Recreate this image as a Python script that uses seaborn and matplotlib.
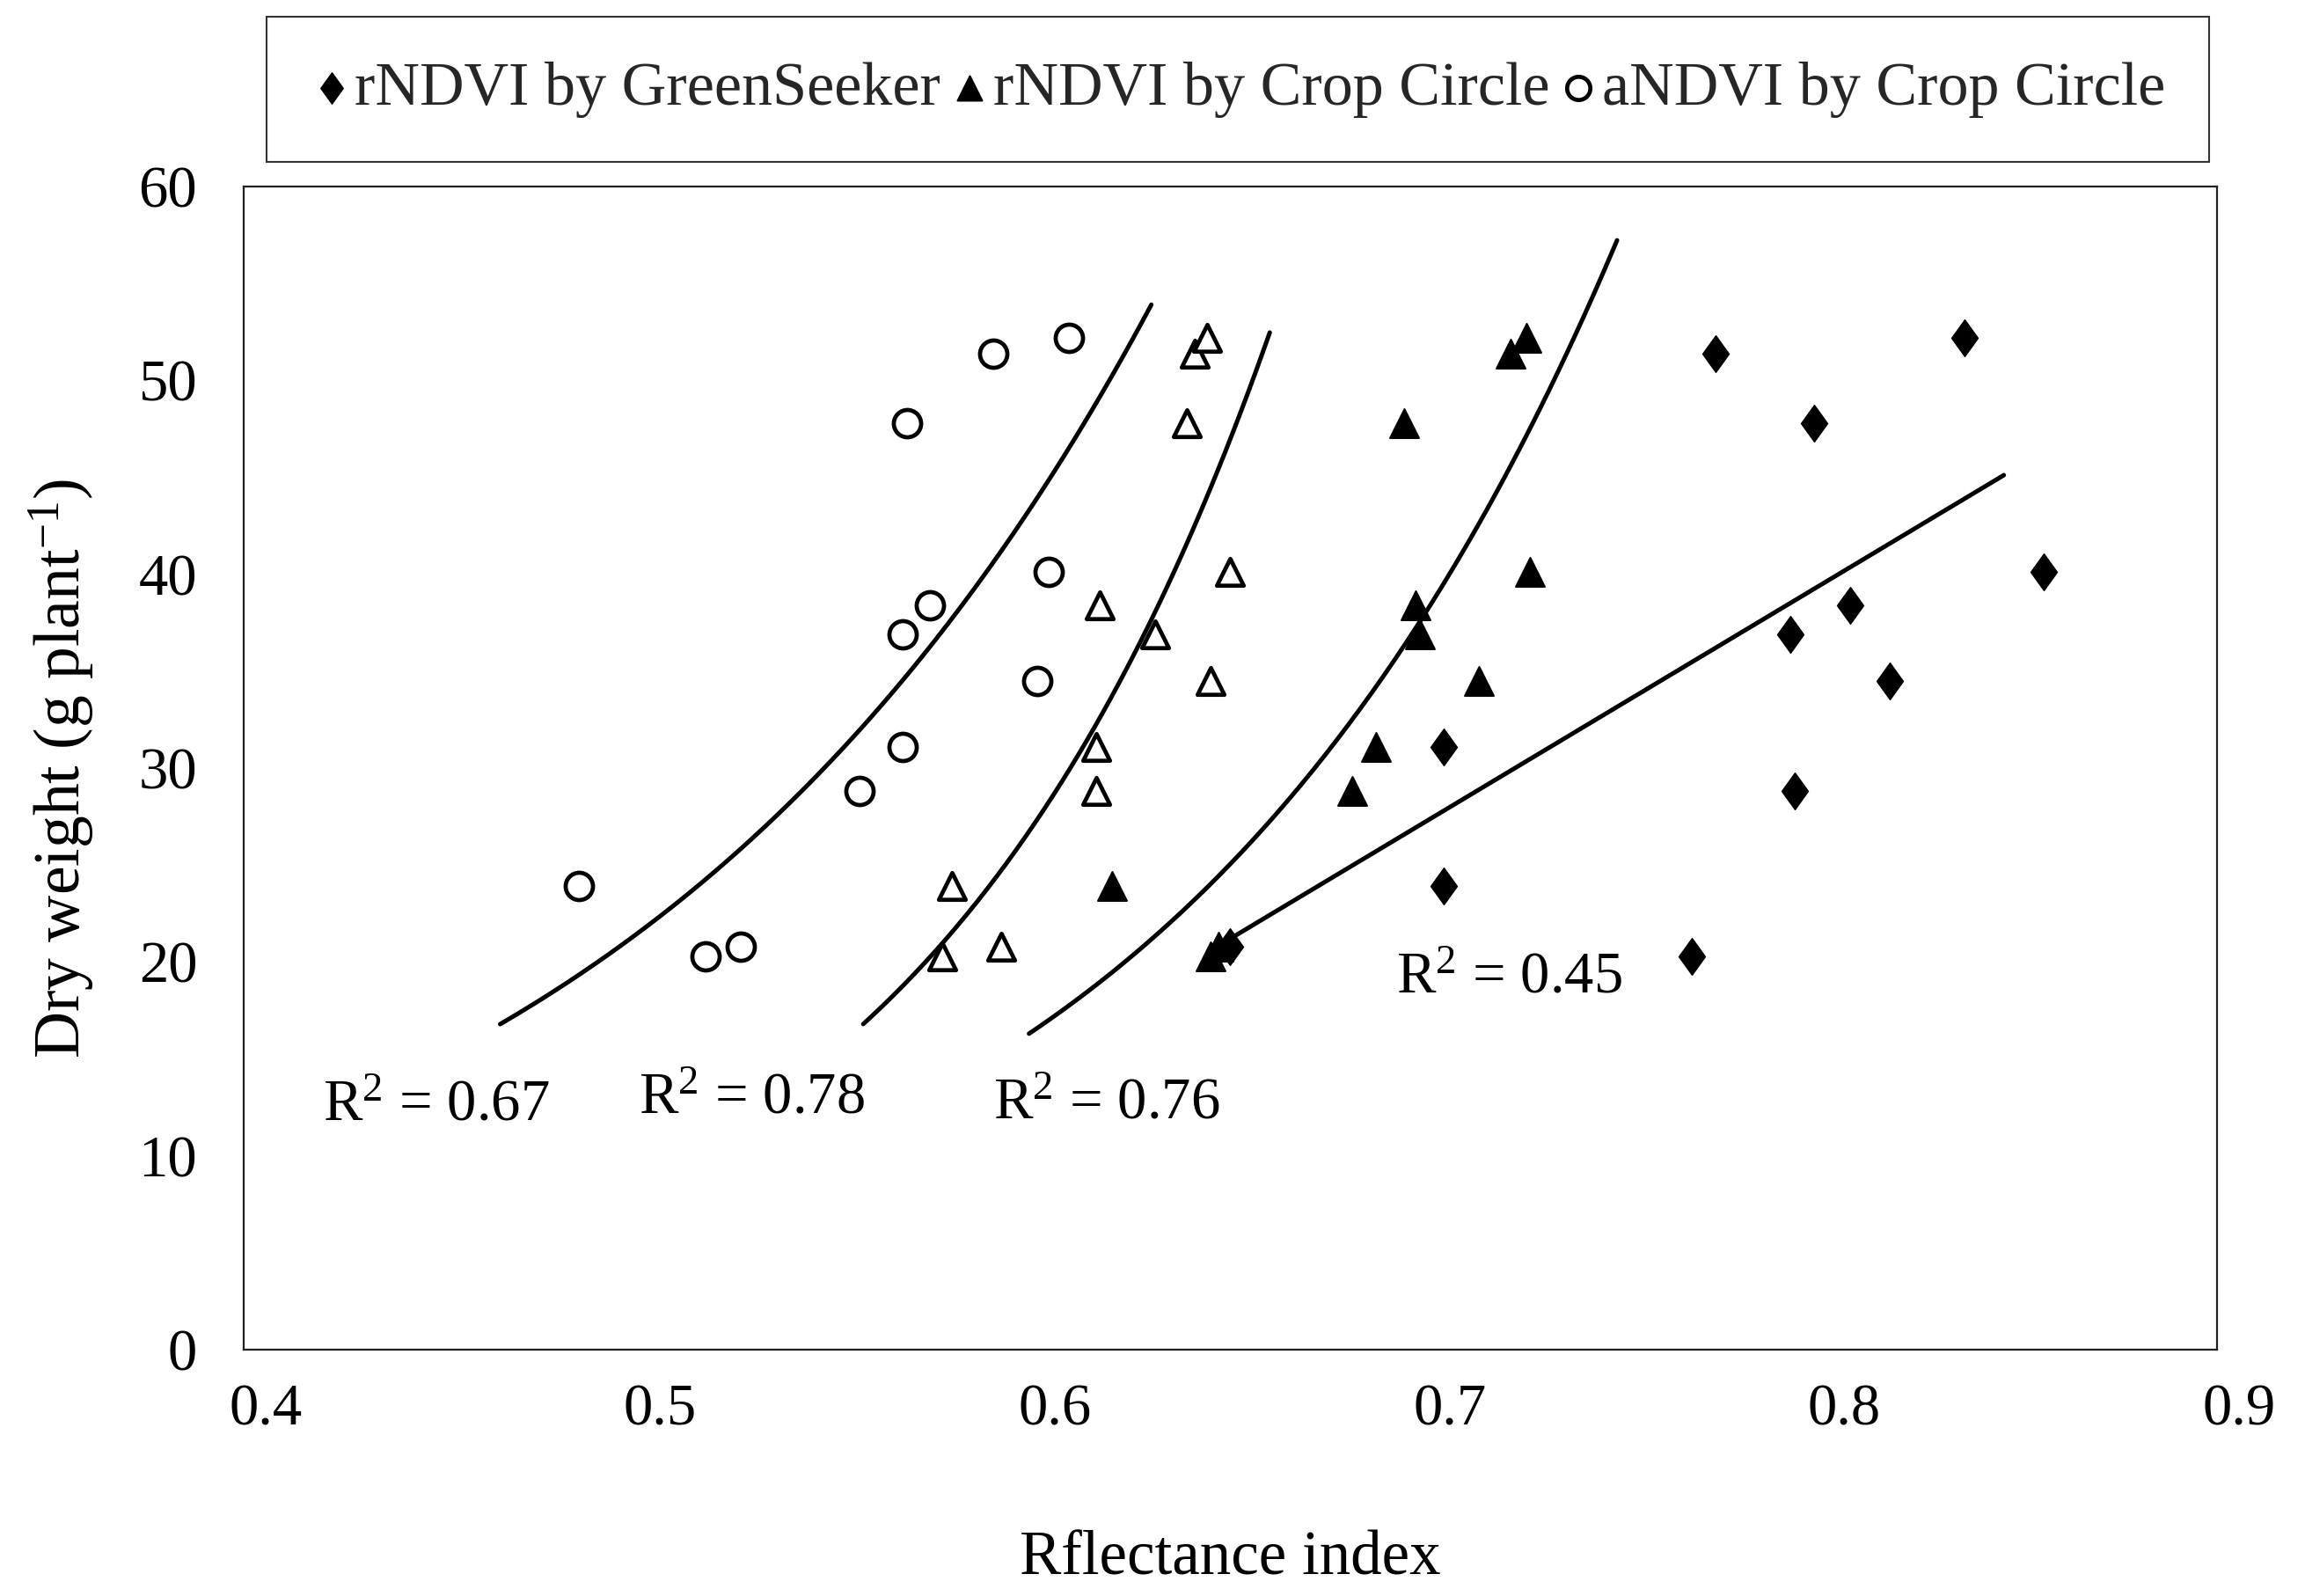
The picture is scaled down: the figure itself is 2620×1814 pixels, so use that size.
import numpy as np
import pandas as pd
import matplotlib
matplotlib.use("Agg")
import matplotlib.pyplot as plt
import matplotlib.transforms as mtransforms
import seaborn as sns
from matplotlib.path import Path

# ---------------- data ----------------
dry_weight = [20.3, 20.8, 23.9, 28.8, 31.1, 34.5, 36.9, 38.4, 40.1, 47.8, 51.4, 52.2]
rndvi_greenseeker = [0.767, 0.650, 0.704, 0.793, 0.704, 0.817, 0.792, 0.807, 0.856, 0.798, 0.773, 0.836]
rndvi_cropcircle = [0.645, 0.647, 0.620, 0.681, 0.687, 0.713, 0.698, 0.697, 0.726, 0.694, 0.721, 0.725]
andvi_cropcircle = [0.517, 0.526, 0.485, 0.556, 0.567, 0.601, 0.567, 0.574, 0.604, 0.568, 0.590, 0.609]
open_triangle_index = [0.577, 0.592, 0.5795, 0.616, 0.616, 0.645, 0.631, 0.617, 0.650, 0.639, 0.641, 0.644]

legend_labels = ["rNDVI by GreenSeeker", "rNDVI by Crop Circle", "aNDVI by Crop Circle"]

# trend lines: exponential y = a*exp(b*x) or linear y = a + b*x
trend_names = ["aNDVI CC", "open triangles", "rNDVI CC", "rNDVI GS"]
trend_kind = ["exp", "exp", "exp", "linear"]
trend_a = [0.627, 0.03546, 0.1045, -58.1]
trend_b = [7.07, 11.06, 8.43, 122.0]
trend_xmin = [0.465, 0.557, 0.599, 0.646]
trend_xmax = [0.630, 0.660, 0.748, 0.846]
r2_texts = ["R$^2$ = 0.67", "R$^2$ = 0.78", "R$^2$ = 0.76", "R$^2$ = 0.45"]

x_ticks = [0.4, 0.5, 0.6, 0.7, 0.8, 0.9]
y_ticks = [0, 10, 20, 30, 40, 50, 60]

# ---------------- style ----------------
sns.set_theme(style="white")
plt.rcParams["font.family"] = ["Liberation Serif", "DejaVu Serif"]
plt.rcParams["mathtext.fontset"] = "custom"
plt.rcParams["mathtext.rm"] = "Liberation Serif"
plt.rcParams["mathtext.it"] = "Liberation Serif:italic"
plt.rcParams["mathtext.bf"] = "Liberation Serif:bold"

fig = plt.figure(figsize=(26.2, 18.14), dpi=100)
ax = fig.add_axes([0.1057, 0.1544, 0.8561, 0.7287])

diamond = Path([(0, 1), (0.72, 0), (0, -1), (-0.72, 0), (0, 1)],
               [Path.MOVETO, Path.LINETO, Path.LINETO, Path.LINETO, Path.CLOSEPOLY])

df = pd.DataFrame({
    "dw": dry_weight,
    "gs": rndvi_greenseeker,
    "cc": rndvi_cropcircle,
    "acc": andvi_cropcircle,
    "ot": open_triangle_index,
})

# trend lines
for kind, a, b, x0, x1 in zip(trend_kind, trend_a, trend_b, trend_xmin, trend_xmax):
    xs = np.linspace(x0, x1, 200)
    ys = a * np.exp(b * xs) if kind == "exp" else a + b * xs
    sns.lineplot(x=xs, y=ys, ax=ax, color="black", linewidth=3.6, sort=False,
                 estimator=None, label="_nolegend_")

# scatter series
sns.scatterplot(data=df, x="gs", y="dw", ax=ax, marker=diamond, s=900,
                color="black", edgecolor="black", linewidth=1, label=legend_labels[0], zorder=5)
sns.scatterplot(data=df, x="cc", y="dw", ax=ax, marker="^", s=560,
                color="black", edgecolor="black", linewidth=1.5, label=legend_labels[1], zorder=5)
sns.scatterplot(data=df, x="acc", y="dw", ax=ax, marker="o", s=500,
                color="white", edgecolor="black", linewidth=3.4, label=legend_labels[2], zorder=5)
sns.scatterplot(data=df, x="ot", y="dw", ax=ax, marker="^", s=480,
                color="white", edgecolor="black", linewidth=3.4, label="_nolegend_", zorder=5)

# R^2 annotations
r2_pos = [(0.420, 11.8), (0.500, 12.2), (0.590, 11.9), (0.692, 18.4)]
for txt, (tx, ty) in zip(r2_texts, r2_pos):
    ax.text(tx, ty, txt, fontsize=48, ha="left", va="baseline", color="black")

# axes
ax.set_xlim(0.4, 0.9)
ax.set_ylim(0, 60)
ax.set_xticks(x_ticks)
ax.set_yticks(y_ticks)
ax.set_xticklabels([f"{v:.1f}" for v in x_ticks])
ax.set_yticklabels([str(v) for v in y_ticks])
ax.tick_params(axis="both", direction="in", length=18, width=1.5, color="black",
               labelsize=48, labelcolor="black")
ax.tick_params(axis="x", pad=28)
ax.tick_params(axis="y", pad=38)
shift = mtransforms.ScaledTranslation(0.25, 0, fig.dpi_scale_trans)
for lab in ax.get_xticklabels():
    lab.set_transform(lab.get_transform() + shift)
for sp in ax.spines.values():
    sp.set_color("#222222")
    sp.set_linewidth(1.6)

ax.set_xlabel("Rflectance index", fontsize=51, labelpad=76, color="black")
ax.set_ylabel("Dry weight (g plant$^{-1}$)", fontsize=53, labelpad=34, color="black")

leg = ax.legend(loc="lower center", bbox_to_anchor=(0.504, 1.021), ncol=3,
                fontsize=50.5, frameon=True, fancybox=False, edgecolor="black",
                handletextpad=0.05, columnspacing=0.15, borderpad=0.72,
                handlelength=0.65, markerscale=0.85, borderaxespad=0)
leg.get_frame().set_linewidth(1.5)

fig.savefig("out.png", dpi=100, facecolor="white")
